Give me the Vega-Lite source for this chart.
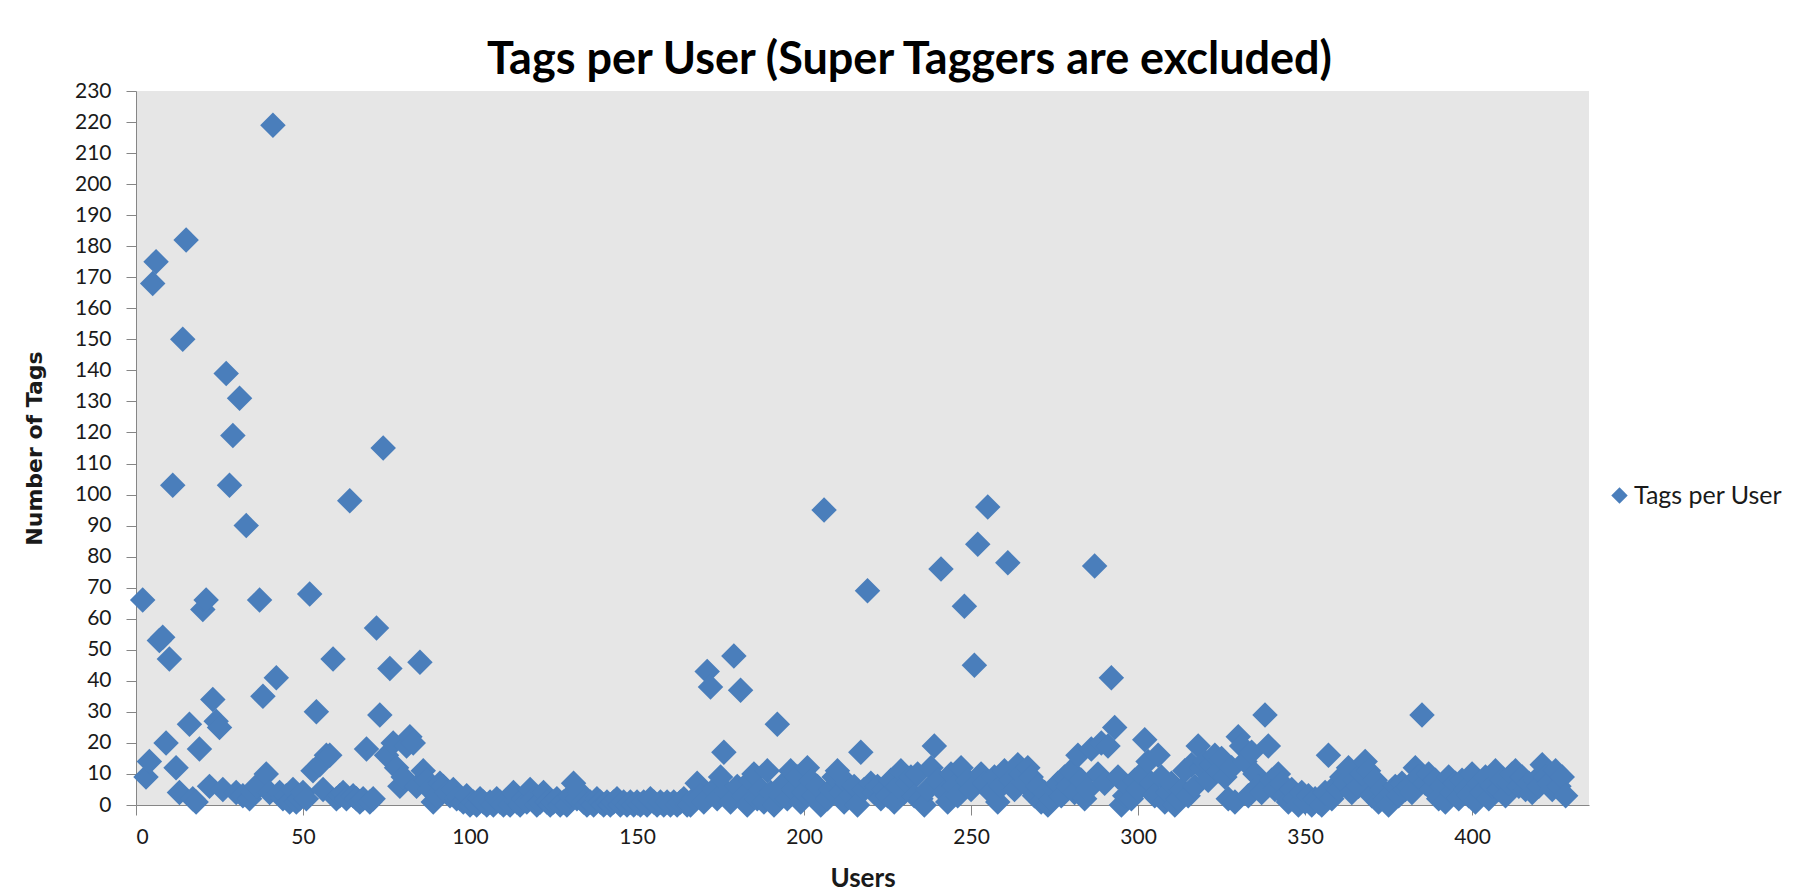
{
"$schema": "https://vega.github.io/schema/vega-lite/v6.json",
"width": 1453, "height": 714,
"autosize": {"type": "none"},
"padding": {"left": 136, "top": 91, "right": 215, "bottom": 87},
"background": "white",
"title": {"text": "Tags per User (Super Taggers are excluded)", "font": "Lato", "fontSize": 45, "fontWeight": "bold", "color": "#000000", "anchor": "middle", "frame": "group", "dx": 47, "dy": 47, "offset": 8, "baseline": "alphabetic"},
"data": {"values": [
{"u":2,"t":66},{"u":3,"t":9},{"u":4,"t":14},{"u":5,"t":168},{"u":6,"t":175},{"u":7,"t":53},{"u":8,"t":54},{"u":9,"t":20},{"u":10,"t":47},{"u":11,"t":103},
{"u":12,"t":12},{"u":13,"t":4},{"u":14,"t":150},{"u":15,"t":182},{"u":16,"t":26},{"u":17,"t":2},{"u":18,"t":1},{"u":19,"t":18},{"u":20,"t":63},{"u":21,"t":66},
{"u":22,"t":6},{"u":23,"t":34},{"u":24,"t":27},{"u":25,"t":25},{"u":26,"t":5},{"u":27,"t":139},{"u":28,"t":103},{"u":29,"t":119},{"u":30,"t":4},{"u":31,"t":131},
{"u":32,"t":3},{"u":33,"t":90},{"u":34,"t":2},{"u":35,"t":4},{"u":36,"t":6},{"u":37,"t":66},{"u":38,"t":35},{"u":39,"t":10},{"u":40,"t":4},{"u":41,"t":219},
{"u":42,"t":41},{"u":43,"t":4},{"u":44,"t":2},{"u":45,"t":3},{"u":46,"t":1},{"u":47,"t":5},{"u":48,"t":1},{"u":49,"t":2},{"u":50,"t":4},{"u":51,"t":2},
{"u":52,"t":68},{"u":53,"t":11},{"u":54,"t":30},{"u":55,"t":13},{"u":56,"t":5},{"u":57,"t":16},{"u":58,"t":16},{"u":59,"t":47},{"u":60,"t":2},{"u":61,"t":3},
{"u":62,"t":4},{"u":63,"t":2},{"u":64,"t":98},{"u":65,"t":3},{"u":66,"t":2},{"u":67,"t":1},{"u":68,"t":2},{"u":69,"t":18},{"u":70,"t":1},{"u":71,"t":2},
{"u":72,"t":57},{"u":73,"t":29},{"u":74,"t":115},{"u":75,"t":16},{"u":76,"t":44},{"u":77,"t":20},{"u":78,"t":12},{"u":79,"t":6},{"u":80,"t":9},{"u":81,"t":19},
{"u":82,"t":22},{"u":83,"t":20},{"u":84,"t":6},{"u":85,"t":46},{"u":86,"t":11},{"u":87,"t":8},{"u":88,"t":5},{"u":89,"t":1},{"u":90,"t":3},{"u":91,"t":7},
{"u":92,"t":6},{"u":93,"t":4},{"u":94,"t":3},{"u":95,"t":5},{"u":96,"t":2},{"u":97,"t":2},{"u":98,"t":1},{"u":99,"t":3},{"u":100,"t":0},{"u":101,"t":1},
{"u":102,"t":0},{"u":103,"t":2},{"u":104,"t":1},{"u":105,"t":0},{"u":106,"t":1},{"u":107,"t":0},{"u":108,"t":2},{"u":109,"t":1},{"u":110,"t":0},{"u":111,"t":1},
{"u":112,"t":0},{"u":113,"t":4},{"u":114,"t":1},{"u":115,"t":0},{"u":116,"t":2},{"u":117,"t":1},{"u":118,"t":5},{"u":119,"t":2},{"u":120,"t":0},{"u":121,"t":1},
{"u":122,"t":4},{"u":123,"t":1},{"u":124,"t":0},{"u":125,"t":1},{"u":126,"t":2},{"u":127,"t":0},{"u":128,"t":1},{"u":129,"t":0},{"u":130,"t":3},{"u":131,"t":7},
{"u":132,"t":2},{"u":133,"t":4},{"u":134,"t":1},{"u":135,"t":0},{"u":136,"t":1},{"u":137,"t":0},{"u":138,"t":2},{"u":139,"t":1},{"u":140,"t":0},{"u":141,"t":1},
{"u":142,"t":0},{"u":143,"t":1},{"u":144,"t":2},{"u":145,"t":0},{"u":146,"t":1},{"u":147,"t":0},{"u":148,"t":1},{"u":149,"t":0},{"u":150,"t":1},{"u":151,"t":0},
{"u":152,"t":1},{"u":153,"t":0},{"u":154,"t":2},{"u":155,"t":1},{"u":156,"t":0},{"u":157,"t":1},{"u":158,"t":0},{"u":159,"t":1},{"u":160,"t":0},{"u":161,"t":1},
{"u":162,"t":0},{"u":163,"t":1},{"u":164,"t":2},{"u":165,"t":0},{"u":166,"t":0},{"u":167,"t":2},{"u":168,"t":7},{"u":169,"t":3},{"u":170,"t":1},{"u":171,"t":43},
{"u":172,"t":38},{"u":173,"t":5},{"u":174,"t":2},{"u":175,"t":9},{"u":176,"t":17},{"u":177,"t":4},{"u":178,"t":1},{"u":179,"t":48},{"u":180,"t":6},{"u":181,"t":37},
{"u":182,"t":3},{"u":183,"t":0},{"u":184,"t":8},{"u":185,"t":10},{"u":186,"t":2},{"u":187,"t":5},{"u":188,"t":1},{"u":189,"t":11},{"u":190,"t":4},{"u":191,"t":0},
{"u":192,"t":26},{"u":193,"t":3},{"u":194,"t":7},{"u":195,"t":2},{"u":196,"t":11},{"u":197,"t":5},{"u":198,"t":9},{"u":199,"t":1},{"u":200,"t":4},{"u":201,"t":12},
{"u":202,"t":8},{"u":203,"t":3},{"u":204,"t":6},{"u":205,"t":0},{"u":206,"t":95},{"u":207,"t":2},{"u":208,"t":5},{"u":209,"t":9},{"u":210,"t":11},{"u":211,"t":4},
{"u":212,"t":1},{"u":213,"t":7},{"u":214,"t":3},{"u":215,"t":6},{"u":216,"t":0},{"u":217,"t":17},{"u":218,"t":5},{"u":219,"t":69},{"u":220,"t":7},{"u":221,"t":4},
{"u":222,"t":6},{"u":223,"t":2},{"u":224,"t":5},{"u":225,"t":3},{"u":226,"t":8},{"u":227,"t":1},{"u":228,"t":6},{"u":229,"t":11},{"u":230,"t":4},{"u":231,"t":7},
{"u":232,"t":9},{"u":233,"t":3},{"u":234,"t":10},{"u":235,"t":2},{"u":236,"t":0},{"u":237,"t":5},{"u":238,"t":12},{"u":239,"t":19},{"u":240,"t":8},{"u":241,"t":76},
{"u":242,"t":4},{"u":243,"t":1},{"u":244,"t":10},{"u":245,"t":6},{"u":246,"t":3},{"u":247,"t":12},{"u":248,"t":64},{"u":249,"t":8},{"u":250,"t":5},{"u":251,"t":45},
{"u":252,"t":84},{"u":253,"t":10},{"u":254,"t":7},{"u":255,"t":96},{"u":256,"t":4},{"u":257,"t":9},{"u":258,"t":1},{"u":259,"t":6},{"u":260,"t":11},{"u":261,"t":78},
{"u":262,"t":8},{"u":263,"t":5},{"u":264,"t":13},{"u":265,"t":10},{"u":266,"t":7},{"u":267,"t":12},{"u":268,"t":9},{"u":269,"t":3},{"u":270,"t":6},{"u":271,"t":1},
{"u":272,"t":4},{"u":273,"t":0},{"u":274,"t":2},{"u":275,"t":5},{"u":276,"t":7},{"u":277,"t":3},{"u":278,"t":9},{"u":279,"t":6},{"u":280,"t":11},{"u":281,"t":4},
{"u":282,"t":16},{"u":283,"t":8},{"u":284,"t":2},{"u":285,"t":5},{"u":286,"t":18},{"u":287,"t":77},{"u":288,"t":10},{"u":289,"t":20},{"u":290,"t":7},{"u":291,"t":19},
{"u":292,"t":41},{"u":293,"t":25},{"u":294,"t":9},{"u":295,"t":0},{"u":296,"t":3},{"u":297,"t":6},{"u":298,"t":2},{"u":299,"t":8},{"u":300,"t":5},{"u":301,"t":10},
{"u":302,"t":21},{"u":303,"t":14},{"u":304,"t":7},{"u":305,"t":3},{"u":306,"t":16},{"u":307,"t":9},{"u":308,"t":1},{"u":309,"t":4},{"u":310,"t":7},{"u":311,"t":0},
{"u":312,"t":2},{"u":313,"t":5},{"u":314,"t":11},{"u":315,"t":3},{"u":316,"t":13},{"u":317,"t":6},{"u":318,"t":19},{"u":319,"t":12},{"u":320,"t":14},{"u":321,"t":8},
{"u":322,"t":13},{"u":323,"t":16},{"u":324,"t":11},{"u":325,"t":15},{"u":326,"t":9},{"u":327,"t":2},{"u":328,"t":12},{"u":329,"t":1},{"u":330,"t":22},{"u":331,"t":19},
{"u":332,"t":14},{"u":333,"t":3},{"u":334,"t":17},{"u":335,"t":10},{"u":336,"t":6},{"u":337,"t":4},{"u":338,"t":29},{"u":339,"t":19},{"u":340,"t":8},{"u":341,"t":5},
{"u":342,"t":10},{"u":343,"t":7},{"u":344,"t":3},{"u":345,"t":1},{"u":346,"t":5},{"u":347,"t":2},{"u":348,"t":0},{"u":349,"t":4},{"u":350,"t":1},{"u":351,"t":3},
{"u":352,"t":0},{"u":353,"t":2},{"u":354,"t":1},{"u":355,"t":0},{"u":356,"t":4},{"u":357,"t":16},{"u":358,"t":2},{"u":359,"t":6},{"u":360,"t":5},{"u":361,"t":9},
{"u":362,"t":7},{"u":363,"t":12},{"u":364,"t":4},{"u":365,"t":8},{"u":366,"t":6},{"u":367,"t":10},{"u":368,"t":14},{"u":369,"t":11},{"u":370,"t":3},{"u":371,"t":8},
{"u":372,"t":1},{"u":373,"t":5},{"u":374,"t":2},{"u":375,"t":0},{"u":376,"t":4},{"u":377,"t":6},{"u":378,"t":3},{"u":379,"t":7},{"u":380,"t":5},{"u":381,"t":6},
{"u":382,"t":4},{"u":383,"t":12},{"u":384,"t":9},{"u":385,"t":29},{"u":386,"t":7},{"u":387,"t":10},{"u":388,"t":5},{"u":389,"t":8},{"u":390,"t":2},{"u":391,"t":6},
{"u":392,"t":1},{"u":393,"t":9},{"u":394,"t":4},{"u":395,"t":7},{"u":396,"t":2},{"u":397,"t":8},{"u":398,"t":5},{"u":399,"t":3},{"u":400,"t":10},{"u":401,"t":1},
{"u":402,"t":7},{"u":403,"t":4},{"u":404,"t":9},{"u":405,"t":2},{"u":406,"t":6},{"u":407,"t":11},{"u":408,"t":5},{"u":409,"t":8},{"u":410,"t":3},{"u":411,"t":7},
{"u":412,"t":10},{"u":413,"t":11},{"u":414,"t":6},{"u":415,"t":9},{"u":416,"t":5},{"u":417,"t":7},{"u":418,"t":4},{"u":419,"t":8},{"u":420,"t":6},{"u":421,"t":13},
{"u":422,"t":9},{"u":423,"t":7},{"u":424,"t":5},{"u":425,"t":11},{"u":426,"t":6},{"u":427,"t":9},{"u":428,"t":3}
]},
"mark": {"type": "point", "shape": "diamond", "filled": true, "size": 650, "opacity": 1},
"encoding": {
  "x": {"field": "u", "type": "quantitative",
        "scale": {"domain": [0, 435], "nice": false},
        "axis": {"values": [0,50,100,150,200,250,300,350,400], "title": "Users", "grid": false,
                 "domainColor": "#868686", "tickColor": "#868686", "tickSize": 10,
                 "labelFont": "Lato", "labelFontSize": 21, "labelColor": "#1a1a1a", "labelPadding": 11,
                 "titleFont": "Lato", "titleFontSize": 26, "titleFontWeight": "bold", "titleColor": "#1a1a1a", "titlePadding": 18}},
  "y": {"field": "t", "type": "quantitative",
        "scale": {"domain": [0, 230], "nice": false},
        "axis": {"values": [0,10,20,30,40,50,60,70,80,90,100,110,120,130,140,150,160,170,180,190,200,210,220,230],
                 "title": "Number of Tags", "grid": false,
                 "domainColor": "#868686", "tickColor": "#868686", "tickSize": 10,
                 "labelFont": "Lato", "labelFontSize": 21, "labelColor": "#1a1a1a", "labelPadding": 15,
                 "titleFont": "DejaVu Sans", "titleFontSize": 22, "titleFontWeight": "bold", "titleColor": "#1a1a1a", "titlePadding": 28}},
  "color": {"datum": "Tags per User", "type": "nominal",
            "scale": {"range": ["#4a7ebb"]},
            "legend": {"title": null, "orient": "none", "legendX": 1471, "legendY": 392, "padding": 0,
                       "symbolType": "diamond", "symbolSize": 270, "symbolOpacity": 1,
                       "labelFont": "Lato", "labelFontSize": 25, "labelColor": "#1a1a1a", "labelOffset": 2}}
},
"config": {"view": {"fill": "#e6e6e6", "stroke": null}}
}
